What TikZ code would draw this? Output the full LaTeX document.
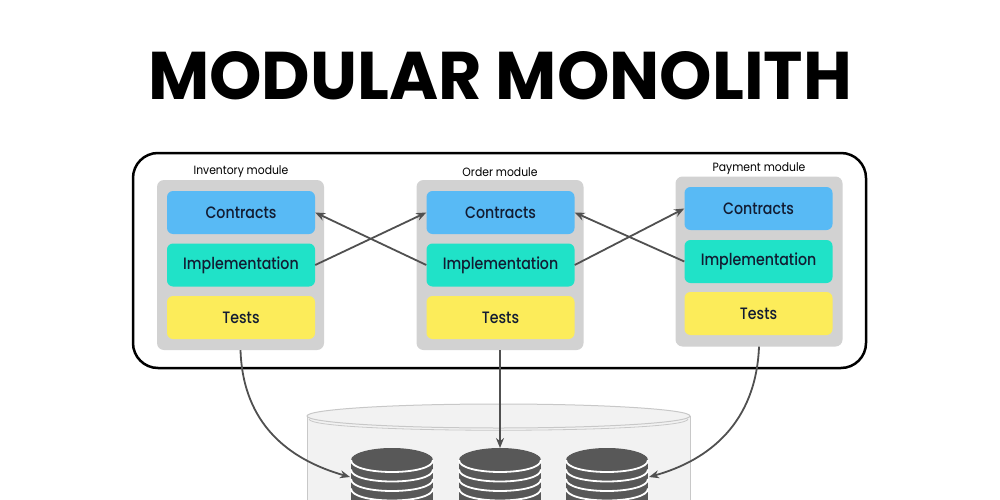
\documentclass[tikz,border=0pt]{standalone}
\usepackage{fontspec}
\setmainfont{Poppins}
\newfontfamily\boxfont{Poppins}[UprightFont=* Medium, FakeStretch=0.86]
\newfontfamily\labfont{Poppins}[FakeStretch=0.9]
\usetikzlibrary{arrows.meta}
\definecolor{cblue}{RGB}{88,186,245}
\definecolor{cteal}{RGB}{32,226,200}
\definecolor{cyel}{RGB}{252,236,90}
\definecolor{cgray}{RGB}{210,210,210}
\definecolor{ctext}{RGB}{18,28,50}
\definecolor{carrow}{RGB}{80,80,80}
\definecolor{cstack}{RGB}{88,88,88}
\definecolor{cylfill}{RGB}{242,242,242}
\definecolor{cylline}{RGB}{200,200,200}
\tikzset{
 modbox/.style={fill=cgray, rounded corners=7pt, minimum width=167pt, minimum height=170pt, inner sep=0pt},
 partbox/.style={rounded corners=6pt, minimum width=148pt, minimum height=43pt, inner sep=0pt, text=ctext, font=\boxfont\fontsize{16.5}{19}\selectfont},
 conbox/.style={partbox, fill=cblue},
 implbox/.style={partbox, fill=cteal},
 tstbox/.style={partbox, fill=cyel},
 modlabel/.style={font=\labfont\fontsize{12}{14}\selectfont, inner sep=0pt},
 arr/.style={draw=carrow, line width=1.8pt, -{Stealth[length=10pt,width=8pt]}},
}
\begin{document}
\begin{tikzpicture}[x=1pt,y=-1pt]
\useasboundingbox (0,0) rectangle (1000,500);
\fill[white] (0,0) rectangle (1000,500);
% title
\node[inner sep=0pt] (title) at (500,76) {\resizebox{704pt}{48pt}{\bfseries MODULAR MONOLITH}};
% big cylinder
\fill[cylfill] (307,416) -- (307,500) -- (690,500) -- (690,416) -- cycle;
\draw[cylline, line width=1pt] (307,416) -- (307,500) (690,416) -- (690,500);
\filldraw[fill=cylfill, draw=cylline, line width=1pt] (498.5,416) ellipse [x radius=191.5, y radius=12];
\draw[cylline, line width=0.8pt] (309,419) .. controls (309,434) and (688,434) .. (688,419);
% stacks
\foreach \cx in {392,500,607}{
 \fill[cstack] (\cx-41,460) -- (\cx-41,500) -- (\cx+41,500) -- (\cx+41,460) -- cycle;
 \fill[cstack] (\cx,460) ellipse [x radius=41, y radius=12];
 \foreach \yy in {460,469.5,479,488.5}{
  \draw[white, line width=1.8pt] (\cx-41,\yy) .. controls (\cx-41,\yy+16) and (\cx+41,\yy+16) .. (\cx+41,\yy);
 }
}
\coordinate (s1in) at (350,477);
\coordinate (s2in) at (500,448);
\coordinate (s3in) at (649,477);
% frame
\node[draw=black, line width=2.5pt, rounded corners=25pt, minimum width=733pt, minimum height=215pt, inner sep=0pt] (frame) at (499.5,260.5) {};
% modules
\node[modbox] (inv) at (240.5,265) {};
\node[conbox] (invC) at (241,212.5) {Contracts};
\node[implbox] (invI) at (241,265) {Implementation};
\node[tstbox] (invT) at (241,317.5) {Tests};
\node[modlabel] (invL) at (241,172) {Inventory module};

\node[modbox] (ord) at (500,265) {};
\node[conbox] (ordC) at (500.5,212.5) {Contracts};
\node[implbox] (ordI) at (500.5,265) {Implementation};
\node[tstbox] (ordT) at (500.5,317.5) {Tests};
\node[modlabel] (ordL) at (500,172) {Order module};

\node[modbox] (pay) at (759,261.5) {};
\node[conbox] (payC) at (758.5,208.5) {Contracts};
\node[implbox] (payI) at (758.5,261.5) {Implementation};
\node[tstbox] (payT) at (758.5,313.5) {Tests};
\node[modlabel] (payL) at (759,169) {Payment module};
% arrows between modules
\draw[arr] (invI.east) -- (ordC.west);
\draw[arr] (ordI.west) -- (invC.east);
\draw[arr] (ordI.east) -- (payC.west);
\draw[arr] (payI.west) -- (ordC.east);
% arrows to database
\draw[arr] (inv.south) .. controls (243,425) and (290,460) .. (s1in);
\draw[arr] (ord.south) -- (s2in);
\draw[arr] (pay.south) .. controls (756,422) and (710,460) .. (s3in);
\end{tikzpicture}
\end{document}
